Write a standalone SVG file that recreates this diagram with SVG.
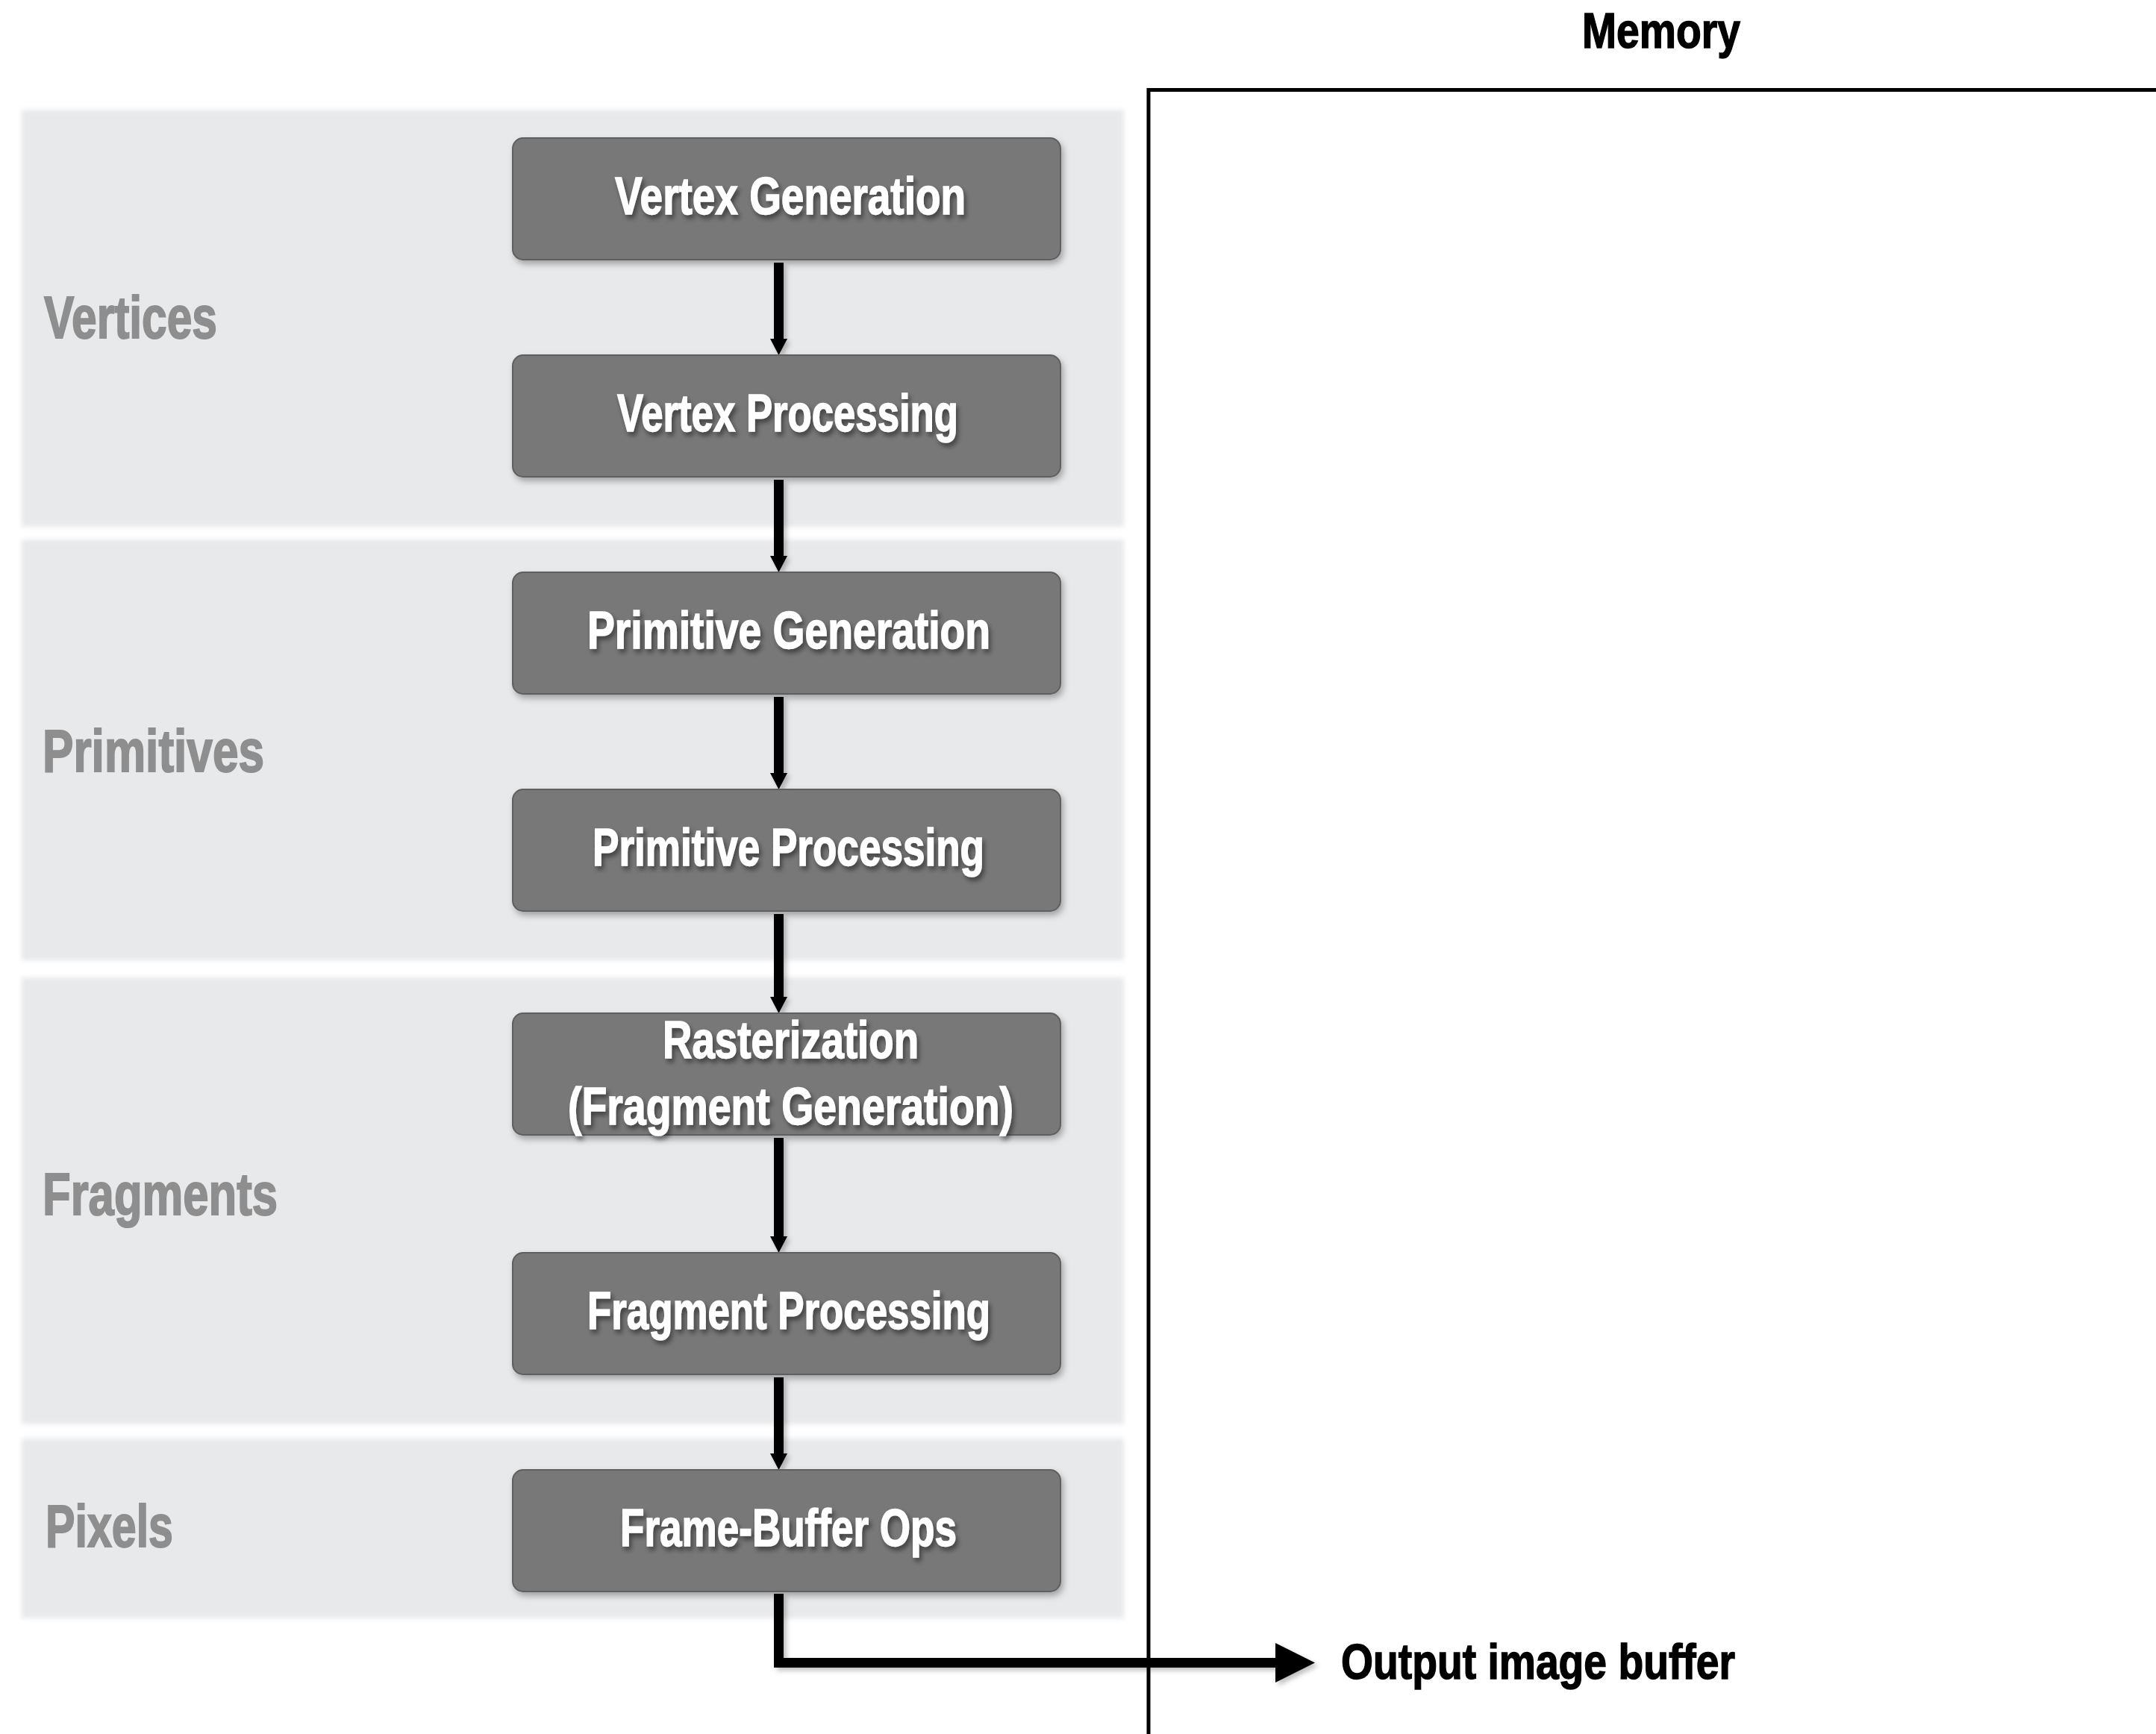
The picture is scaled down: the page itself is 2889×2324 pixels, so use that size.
<svg xmlns="http://www.w3.org/2000/svg" width="2889" height="2324" viewBox="0 0 2889 2324">
<style>
.band{fill:#e8e9eb;filter:url(#soft)}
.box{fill:#787878;stroke:#5e5e5e;stroke-width:2;filter:url(#boxsh)}
.bt{font-family:"Liberation Sans Narrow","Liberation Sans",Arial,sans-serif;font-weight:bold;font-size:70px;fill:#ffffff;stroke:#ffffff;stroke-width:1.5;filter:url(#txtsh)}
.lab{font-family:"Liberation Sans Narrow","Liberation Sans",Arial,sans-serif;font-weight:bold;font-size:80px;fill:#8e8e8e;stroke:#8e8e8e;stroke-width:2}
.bk{font-family:"Liberation Sans Narrow","Liberation Sans",Arial,sans-serif;font-weight:bold;font-size:67px;fill:#000000;stroke:#000000;stroke-width:1.5}
.conn{fill:none;stroke:#000;stroke-width:13;filter:url(#linesh)}
</style>
<defs>
<filter id="soft" x="-5%" y="-5%" width="110%" height="110%"><feGaussianBlur stdDeviation="3"/></filter>
<filter id="boxsh" x="-5%" y="-10%" width="115%" height="130%"><feDropShadow dx="3" dy="5" stdDeviation="4" flood-color="#000" flood-opacity="0.3"/></filter>
<filter id="txtsh" x="-5%" y="-20%" width="115%" height="150%"><feDropShadow dx="3" dy="5" stdDeviation="3" flood-color="#000" flood-opacity="0.45"/></filter>
<filter id="linesh" filterUnits="userSpaceOnUse" x="0" y="0" width="2889" height="2324"><feDropShadow dx="4" dy="4" stdDeviation="3" flood-color="#000" flood-opacity="0.25"/></filter>
<marker id="ah" markerUnits="userSpaceOnUse" viewBox="0 0 22 23" refX="0" refY="11.5" markerWidth="22" markerHeight="23" orient="auto"><path d="M0,0 L22,11.5 L0,23 Z" fill="#000"/></marker>
<marker id="ahbig" markerUnits="userSpaceOnUse" viewBox="0 0 53 53" refX="0" refY="26.5" markerWidth="53" markerHeight="53" orient="auto"><path d="M0,0 L53,26.5 L0,53 Z" fill="#000"/></marker>
</defs>
<rect width="2889" height="2324" fill="#ffffff"/>
<g id="bands">
<rect class="band" x="29" y="147" width="1477" height="559"/>
<rect class="band" x="29" y="723" width="1477" height="564"/>
<rect class="band" x="29" y="1310" width="1477" height="599"/>
<rect class="band" x="29" y="1928" width="1477" height="241"/>
</g>
<g id="labels">
<text class="lab" x="59" y="453" textLength="232" lengthAdjust="spacingAndGlyphs">Vertices</text>
<text class="lab" x="57" y="1034" textLength="297" lengthAdjust="spacingAndGlyphs">Primitives</text>
<text class="lab" x="57" y="1628" textLength="315" lengthAdjust="spacingAndGlyphs">Fragments</text>
<text class="lab" x="61" y="2073" textLength="171" lengthAdjust="spacingAndGlyphs">Pixels</text>
</g>
<g id="memory">
<path d="M2892,120.5 H1539 V2328" fill="none" stroke="#000" stroke-width="5"/>
<text class="bk" x="2120" y="64" textLength="212" lengthAdjust="spacingAndGlyphs">Memory</text>
</g>
<g id="connectors">
<path class="conn" d="M1043.5,352 V454" marker-end="url(#ah)"/>
<path class="conn" d="M1043.5,643 V745" marker-end="url(#ah)"/>
<path class="conn" d="M1043.5,934 V1036" marker-end="url(#ah)"/>
<path class="conn" d="M1043.5,1225 V1336" marker-end="url(#ah)"/>
<path class="conn" d="M1043.5,1525 V1657" marker-end="url(#ah)"/>
<path class="conn" d="M1043.5,1846 V1948" marker-end="url(#ah)"/>
<path class="conn" d="M1043.5,2136 V2228.5 H1709" marker-end="url(#ahbig)"/>
</g>
<g id="n1"><rect class="box" x="687" y="185" width="734" height="163" rx="14"/><text class="bt" x="824" y="287" textLength="470" lengthAdjust="spacingAndGlyphs">Vertex Generation</text></g>
<g id="n2"><rect class="box" x="687" y="476" width="734" height="163" rx="14"/><text class="bt" x="827" y="578" textLength="457" lengthAdjust="spacingAndGlyphs">Vertex Processing</text></g>
<g id="n3"><rect class="box" x="687" y="767" width="734" height="163" rx="14"/><text class="bt" x="787" y="869" textLength="540" lengthAdjust="spacingAndGlyphs">Primitive Generation</text></g>
<g id="n4"><rect class="box" x="687" y="1058" width="734" height="163" rx="14"/><text class="bt" x="794" y="1160" textLength="525" lengthAdjust="spacingAndGlyphs">Primitive Processing</text></g>
<g id="n5"><rect class="box" x="687" y="1358" width="734" height="163" rx="14"/><text class="bt" x="888" y="1418" textLength="343" lengthAdjust="spacingAndGlyphs">Rasterization</text><text class="bt" x="761" y="1507" textLength="597" lengthAdjust="spacingAndGlyphs">(Fragment Generation)</text></g>
<g id="n6"><rect class="box" x="687" y="1679" width="734" height="163" rx="14"/><text class="bt" x="787" y="1781" textLength="540" lengthAdjust="spacingAndGlyphs">Fragment Processing</text></g>
<g id="n7"><rect class="box" x="687" y="1970" width="734" height="163" rx="14"/><text class="bt" x="831" y="2072" textLength="451" lengthAdjust="spacingAndGlyphs">Frame-Buffer Ops</text></g>
<g id="output"><text class="bk" x="1797" y="2250" textLength="528" lengthAdjust="spacingAndGlyphs">Output image buffer</text></g>
</svg>
